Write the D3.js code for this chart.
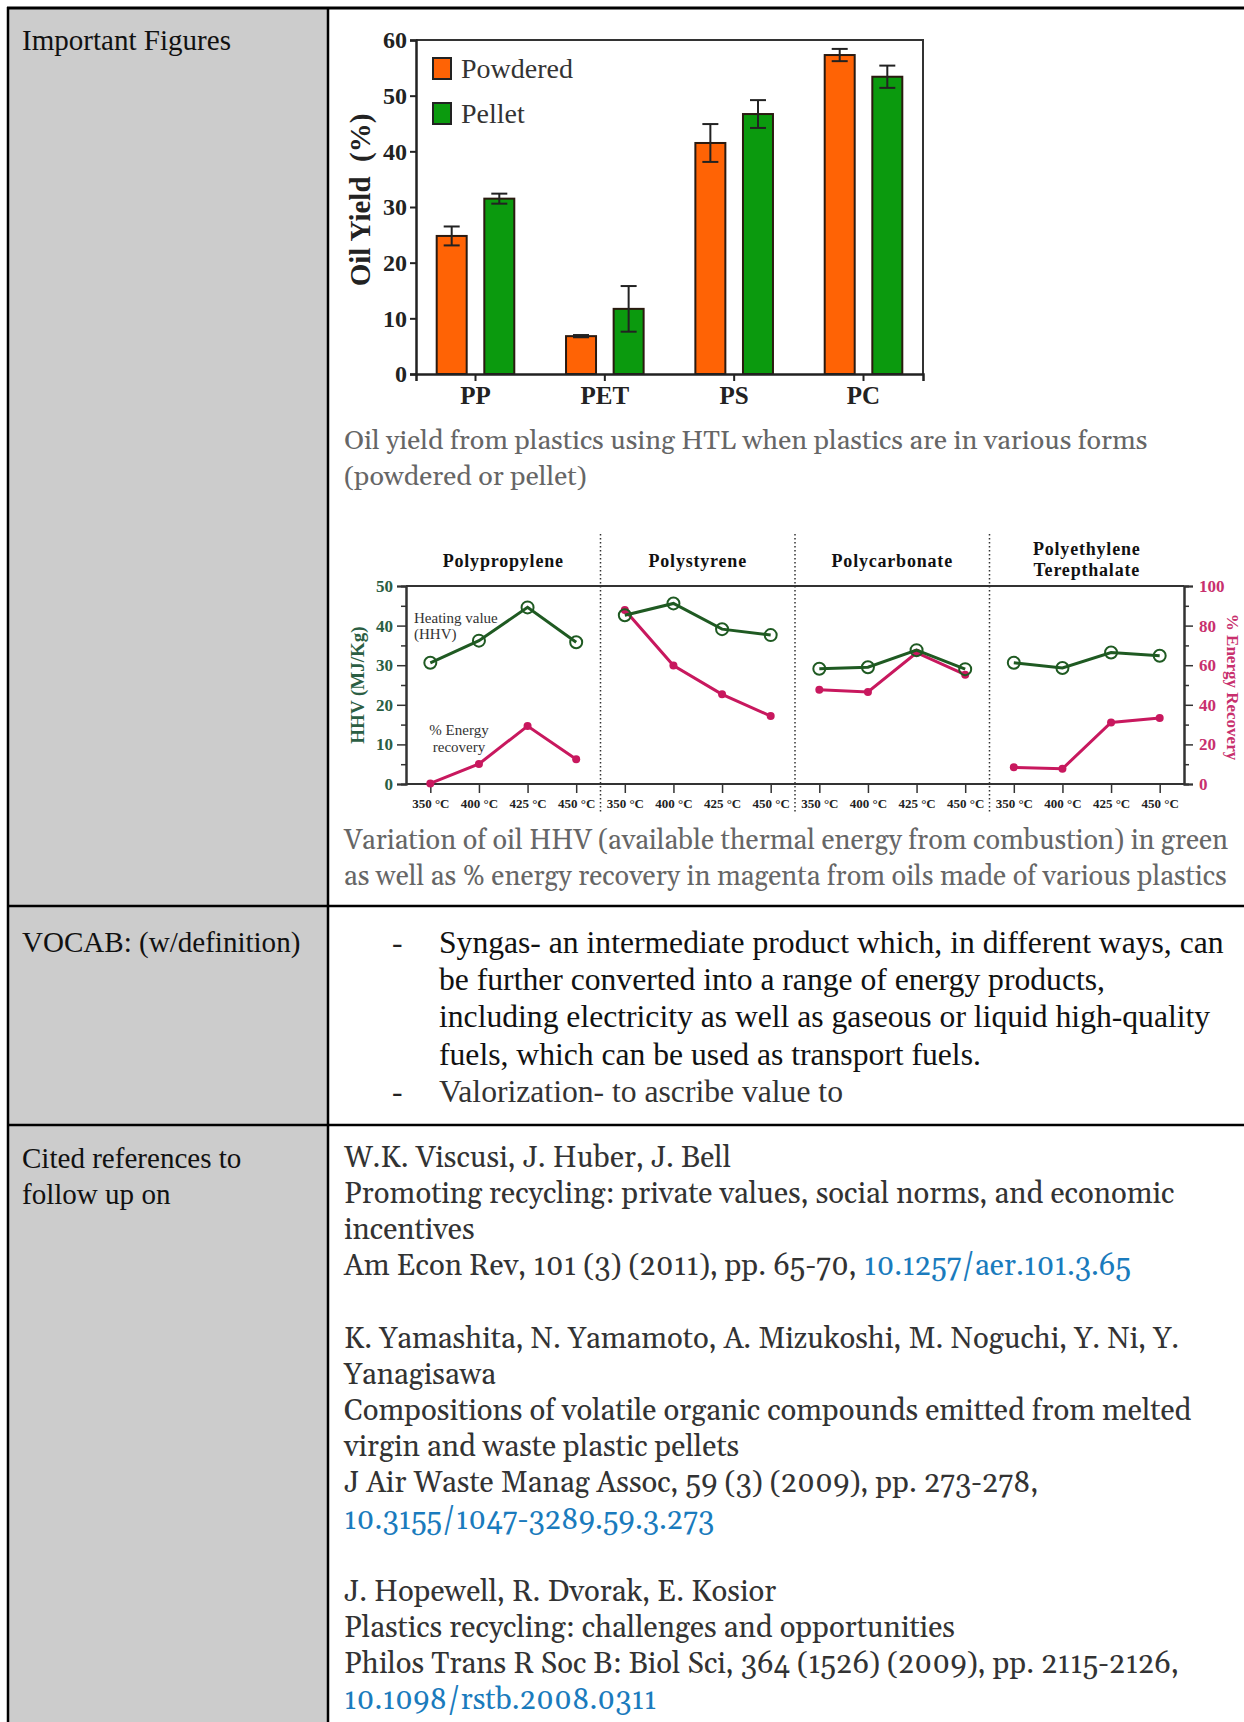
<!DOCTYPE html>
<html><head><meta charset="utf-8">
<script src="https://cdn.jsdelivr.net/npm/d3@7"></script>
<style>body{margin:0;background:#fff} svg{display:block}</style>
</head><body>
<svg id="page" width="1244" height="1722"></svg>
<script>
// ---------- data: bar chart ----------
const plastics = ["PP", "PET", "PS", "PC"];
const forms = ["Powdered", "Pellet"];
const yieldPowdered = [24.8, 6.8, 41.5, 57.3];
const yieldPellet = [31.5, 11.7, 46.7, 53.4];
const errPowdered = [1.7, 0.2, 3.4, 1.1];
const errPellet = [0.9, 4.1, 2.5, 2.0];
const yieldTicks = [0, 10, 20, 30, 40, 50, 60];

// ---------- data: HHV / energy recovery ----------
const panels = ["Polypropylene", "Polystyrene", "Polycarbonate", "Polyethylene Terepthalate"];
const temps = ["350 °C", "400 °C", "425 °C", "450 °C"];
const hhvPP = [30.6, 36.2, 44.6, 35.8];
const hhvPS = [42.6, 45.6, 39.1, 37.6];
const hhvPC = [29.1, 29.5, 33.8, 29.0];
const hhvPET = [30.6, 29.3, 33.2, 32.4];
const erPP = [0.3, 10.1, 29.3, 12.5];
const erPS = [87.9, 59.8, 45.3, 34.3];
const erPC = [47.6, 46.5, 66.3, 55.2];
const erPET = [8.4, 7.7, 31.1, 33.3];
const hhvTicks = [0, 10, 20, 30, 40, 50];
const erTicks = [0, 20, 40, 60, 80, 100];

// ---------- text ----------
const caption1 = ["Oil yield from plastics using HTL when plastics are in various forms", "(powdered or pellet)"];
const caption2 = ["Variation of oil HHV (available thermal energy from combustion) in green",
  "as well as % energy recovery in magenta from oils made of various plastics"];
const vocab1 = ["Syngas- an intermediate product which, in different ways, can",
  "be further converted into a range of energy products,",
  "including electricity as well as gaseous or liquid high-quality",
  "fuels, which can be used as transport fuels."];
const vocab2 = "Valorization- to ascribe value to";
const refs = [
  [["W.K. Viscusi, J. Huber, J. Bell"], ["Promoting recycling: private values, social norms, and economic"], ["incentives"],
   ["Am Econ Rev, 101 (3) (2011), pp. 65-70, ", "10.1257/aer.101.3.65"]],
  [["K. Yamashita, N. Yamamoto, A. Mizukoshi, M. Noguchi, Y. Ni, Y."], ["Yanagisawa"],
   ["Compositions of volatile organic compounds emitted from melted"], ["virgin and waste plastic pellets"],
   ["J Air Waste Manag Assoc, 59 (3) (2009), pp. 273-278,"], ["", "10.3155/1047-3289.59.3.273"]],
  [["J. Hopewell, R. Dvorak, E. Kosior"], ["Plastics recycling: challenges and opportunities"],
   ["Philos Trans R Soc B: Biol Sci, 364 (1526) (2009), pp. 2115-2126,"], ["", "10.1098/rstb.2008.0311"]]
];

const svg = d3.select("#page");
const TM = '"Liberation Serif", "Times New Roman", serif';
const GG = '"Gelasio", Georgia, serif';

function fitSize(txt, fam, weight, target) {
  const t = svg.append("text").style("font-family", fam).attr("font-weight", weight)
    .attr("font-size", 20).text(txt);
  const w = t.node().getComputedTextLength();
  t.remove();
  return 20 * target / w;
}

// ---------- table ----------
svg.append("rect").attr("x", 8).attr("y", 8).attr("width", 320).attr("height", 1714).attr("fill", "#cccccc");
const lineAttr = s => s.attr("stroke", "#000").attr("stroke-width", 2.5);
lineAttr(svg.append("line").attr("x1", 7).attr("x2", 1244).attr("y1", 8).attr("y2", 8)).attr("stroke-width", 3);
lineAttr(svg.append("line").attr("x1", 8).attr("x2", 8).attr("y1", 7).attr("y2", 1722));
lineAttr(svg.append("line").attr("x1", 328).attr("x2", 328).attr("y1", 7).attr("y2", 1722));
lineAttr(svg.append("line").attr("x1", 7).attr("x2", 1244).attr("y1", 906).attr("y2", 906));
lineAttr(svg.append("line").attr("x1", 7).attr("x2", 1244).attr("y1", 1125).attr("y2", 1125));

const leftSize = fitSize("Important Figures", TM, 400, 209);
const leftText = [["Important Figures", 50], ["VOCAB: (w/definition)", 952], ["Cited references to", 1168], ["follow up on", 1204]];
svg.append("g").selectAll("text").data(leftText).join("text").style("font-family", TM)
  .attr("x", 22).attr("y", d => d[1]).attr("font-size", leftSize)
  .attr("fill", "#111").text(d => d[0]);

// ---------- bar chart ----------
const bx = d3.scaleBand().domain(plastics).range([416, 923]).paddingInner(0.4).paddingOuter(0.16);
const bx1 = d3.scaleBand().domain(forms).range([0, bx.bandwidth()]).paddingInner(0.37);
const by = d3.scaleLinear().domain([0, 60]).range([374, 40]);
const barColor = {Powdered: "#ff6305", Pellet: "#0b9a0e"};
const bars = [];
plastics.forEach((p, i) => {
  bars.push({p, f: "Powdered", v: yieldPowdered[i], e: errPowdered[i]});
  bars.push({p, f: "Pellet", v: yieldPellet[i], e: errPellet[i]});
});
const bg = svg.append("g");
bg.selectAll("rect.bar").data(bars).join("rect").attr("class", "bar")
  .attr("x", d => bx(d.p) + bx1(d.f)).attr("width", bx1.bandwidth())
  .attr("y", d => by(d.v)).attr("height", d => by(0) - by(d.v))
  .attr("fill", d => barColor[d.f]).attr("stroke", "#2a1a10").attr("stroke-width", 2);
const eb = bg.selectAll("g.err").data(bars).join("g").attr("class", "err")
  .attr("stroke", "#222").attr("stroke-width", 2);
eb.append("line").attr("x1", d => bx(d.p) + bx1(d.f) + bx1.bandwidth() / 2)
  .attr("x2", d => bx(d.p) + bx1(d.f) + bx1.bandwidth() / 2)
  .attr("y1", d => by(d.v + d.e)).attr("y2", d => by(d.v - d.e));
[1, -1].forEach(s => eb.append("line")
  .attr("x1", d => bx(d.p) + bx1(d.f) + bx1.bandwidth() / 2 - 8)
  .attr("x2", d => bx(d.p) + bx1(d.f) + bx1.bandwidth() / 2 + 8)
  .attr("y1", d => by(d.v + s * d.e)).attr("y2", d => by(d.v + s * d.e)));
// frame
bg.append("path").attr("d", `M416,${by(60)}H923V${by(0)}`).attr("fill", "none").attr("stroke", "#333").attr("stroke-width", 2);
const yAx = bg.append("g").attr("transform", "translate(416,0)")
  .call(d3.axisLeft(by).tickValues(yieldTicks).tickSize(6).tickPadding(3));
yAx.select(".domain").attr("stroke", "#222").attr("stroke-width", 2.5);
yAx.selectAll(".tick line").attr("stroke", "#222").attr("stroke-width", 2);
yAx.selectAll(".tick text").style("font-family", TM).attr("font-weight", "bold").attr("font-size", 24).attr("fill", "#222");
const xAx = bg.append("g").attr("transform", `translate(0,${by(0)})`)
  .call(d3.axisBottom(bx).tickSize(7).tickPadding(5));
xAx.select(".domain").attr("stroke", "#222").attr("stroke-width", 2.5);
xAx.selectAll(".tick line").attr("stroke", "#222").attr("stroke-width", 2);
xAx.selectAll(".tick text").style("font-family", TM).attr("font-weight", "bold").attr("font-size", 25).attr("fill", "#222");
bg.append("text").style("font-family", TM).attr("transform", "translate(370,200) rotate(-90)").attr("text-anchor", "middle")
  .attr("font-weight", "bold").attr("font-size", 29).attr("fill", "#222")
  .attr("xml:space", "preserve").text("Oil Yield  (%)");
// legend
const lg = bg.selectAll("g.leg").data(forms).join("g").attr("class", "leg")
  .attr("transform", (d, i) => `translate(433,${58 + i * 45})`);
lg.append("rect").attr("width", 18).attr("height", 21).attr("fill", d => barColor[d]).attr("stroke", "#222").attr("stroke-width", 2);
lg.append("text").style("font-family", TM).attr("x", 28).attr("y", 20).attr("font-size", 28).attr("fill", "#333").text(d => d);

// captions
const capSize = fitSize(caption1[0], GG, 400, 804);
svg.append("g").selectAll("text").data(caption1).join("text").style("font-family", GG)
  .attr("x", 344).attr("y", (d, i) => 449 + i * 36).attr("font-size", capSize)
  .attr("fill", "#666").text(d => d);

// ---------- HHV chart ----------
const green = "#1f5a22", magenta = "#c8185e";
const px = d3.scaleBand().domain(panels).range([406, 1184]);
const tx = d3.scalePoint().domain(temps).range([0, px.bandwidth()]).padding(0.5);
const yL = d3.scaleLinear().domain([0, 50]).range([784, 586]);
const yR = d3.scaleLinear().domain([0, 100]).range([784, 586]);
const hg = svg.append("g");
hg.append("line").attr("x1", 406).attr("x2", 1184).attr("y1", yL(50)).attr("y2", yL(50)).attr("stroke", "#333").attr("stroke-width", 2);
panels.slice(1).forEach(p => hg.append("line").attr("x1", px(p)).attr("x2", px(p)).attr("y1", 534).attr("y2", 812)
  .attr("stroke", "#333").attr("stroke-width", 1.5).attr("stroke-dasharray", "1.5,2.5"));
// left axis
const lMinor = hg.append("g").attr("transform", "translate(406,0)").call(d3.axisLeft(yL).tickValues(d3.range(5, 50, 10)).tickSize(5).tickFormat(""));
const lMajor = hg.append("g").attr("transform", "translate(406,0)").call(d3.axisLeft(yL).tickValues(hhvTicks).tickSize(9).tickPadding(4));
[lMinor, lMajor].forEach(a => { a.select(".domain").attr("stroke", "#333").attr("stroke-width", 2); a.selectAll(".tick line").attr("stroke", "#333").attr("stroke-width", 1.5); });
lMajor.selectAll(".tick text").style("font-family", TM).attr("font-weight", "bold").attr("font-size", 17).attr("fill", "#2b5e43");
// right axis
const rMinor = hg.append("g").attr("transform", "translate(1184,0)").call(d3.axisRight(yR).tickValues(d3.range(10, 100, 20)).tickSize(5).tickFormat(""));
const rMajor = hg.append("g").attr("transform", "translate(1184,0)").call(d3.axisRight(yR).tickValues(erTicks).tickSize(9).tickPadding(6));
[rMinor, rMajor].forEach(a => { a.select(".domain").attr("stroke", "#333").attr("stroke-width", 2); a.selectAll(".tick line").attr("stroke", "#333").attr("stroke-width", 1.5); });
rMajor.selectAll(".tick text").style("font-family", TM).attr("font-weight", "bold").attr("font-size", 17).attr("fill", "#c8306e");
// bottom line
hg.append("line").attr("x1", 406).attr("x2", 1184).attr("y1", yL(0)).attr("y2", yL(0)).attr("stroke", "#333").attr("stroke-width", 2);
// axis titles
hg.append("text").style("font-family", TM).attr("transform", "translate(364,685) rotate(-90)").attr("text-anchor", "middle")
  .attr("font-weight", "bold").attr("font-size", 19).attr("fill", "#2b5e43").text("HHV (MJ/Kg)");
hg.append("text").style("font-family", TM).attr("transform", "translate(1227,687) rotate(90)").attr("text-anchor", "middle")
  .attr("font-weight", "bold").attr("font-size", 17).attr("fill", "#c8306e").text("% Energy Recovery");

const hhvSets = [hhvPP, hhvPS, hhvPC, hhvPET];
const erSets = [erPP, erPS, erPC, erPET];
panels.forEach((p, k) => {
  const g = hg.append("g").attr("transform", `translate(${px(p)},0)`);
  const xa = g.append("g").attr("transform", `translate(0,${yL(0)})`).call(d3.axisBottom(tx).tickSize(9).tickPadding(6));
  xa.select(".domain").remove();
  xa.selectAll(".tick line").attr("stroke", "#333").attr("stroke-width", 1.5);
  xa.selectAll(".tick text").style("font-family", TM).attr("font-weight", "bold").attr("font-size", 13).attr("fill", "#222");
  // title
  const words = p === "Polyethylene Terepthalate" ? ["Polyethylene", "Terepthalate"] : [p];
  g.append("text").style("font-family", TM).attr("x", px.bandwidth() / 2).attr("text-anchor", "middle")
    .attr("font-weight", "bold").attr("font-size", 18).attr("letter-spacing", 0.8).attr("fill", "#111")
    .selectAll("tspan").data(words).join("tspan").attr("x", px.bandwidth() / 2)
    .attr("y", (d, i) => words.length === 1 ? 567 : 555 + i * 21).text(d => d);
  const er = erSets[k].map((v, i) => [tx(temps[i]), yR(v)]);
  const hv = hhvSets[k].map((v, i) => [tx(temps[i]), yL(v)]);
  g.append("path").attr("d", d3.line()(er)).attr("fill", "none").attr("stroke", magenta).attr("stroke-width", 3);
  g.selectAll("circle.er").data(er).join("circle").attr("class", "er").attr("cx", d => d[0]).attr("cy", d => d[1]).attr("r", 4).attr("fill", magenta);
  g.append("path").attr("d", d3.line()(hv)).attr("fill", "none").attr("stroke", green).attr("stroke-width", 3);
  g.selectAll("circle.hv").data(hv).join("circle").attr("class", "hv").attr("cx", d => d[0]).attr("cy", d => d[1]).attr("r", 6)
    .attr("fill", "#fff").attr("fill-opacity", 0).attr("stroke", green).attr("stroke-width", 2);
});
// annotations
hg.append("text").style("font-family", TM).attr("font-size", 15).attr("fill", "#333")
  .selectAll("tspan").data(["Heating value", "(HHV)"]).join("tspan").attr("x", 414).attr("y", (d, i) => 623 + i * 16).text(d => d);
hg.append("text").style("font-family", TM).attr("font-size", 15).attr("fill", "#333").attr("text-anchor", "middle")
  .selectAll("tspan").data(["% Energy", "recovery"]).join("tspan").attr("x", 459).attr("y", (d, i) => 735 + i * 17).text(d => d);

const cap2Size = fitSize(caption2[1], GG, 400, 883);
svg.append("g").selectAll("text").data(caption2).join("text").style("font-family", GG)
  .attr("x", 344).attr("y", (d, i) => 849 + i * 36).attr("font-size", cap2Size)
  .attr("fill", "#666").text(d => d);

// ---------- vocab ----------
const vSize = fitSize(vocab1[0], TM, 400, 785);
const vg = svg.append("g").style("font-family", TM).attr("font-size", vSize);
vg.selectAll("text.v").data(vocab1).join("text").attr("class", "v").attr("x", 439).attr("y", (d, i) => 953 + i * 37.2).attr("fill", "#111").text(d => d);
vg.append("text").attr("x", 439).attr("y", 953 + 4 * 37.2).attr("fill", "#333").text(vocab2);
vg.selectAll("text.b").data([953, 953 + 4 * 37.2]).join("text").attr("class", "b").attr("x", 392).attr("y", d => d).attr("fill", "#222").text("-");

// ---------- references ----------
const rSize = fitSize(refs[0][1][0], GG, 400, 831);
const rg = svg.append("g").style("font-family", GG).attr("font-size", rSize);
let y = 1167;
refs.forEach(block => {
  block.forEach(line => {
    const t = rg.append("text").attr("x", 344).attr("y", y).attr("fill", "#333");
    t.append("tspan").text(line[0]);
    if (line[1]) t.append("tspan").attr("fill", "#1a7bbd").text(line[1]);
    y += 36.15;
  });
  y += 36.15;
});
</script>
</body></html>
